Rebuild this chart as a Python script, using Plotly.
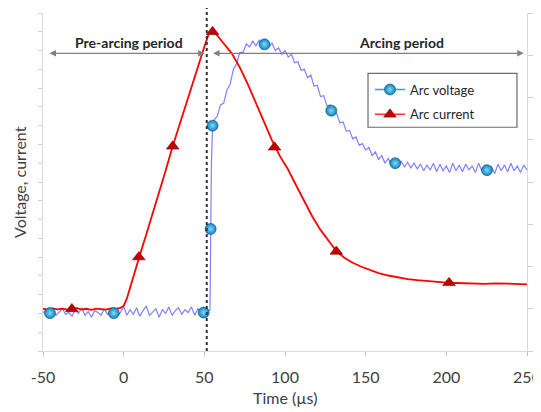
import numpy as np
import plotly.graph_objects as go

# ---------------- data ----------------
# Arc voltage trace: baseline (t = -50..50, step 2), jump, arc phase (t = 56..250, step 2)
volt_base = [2.05, 2.15, 1.95, 2.2, 1.9, 2.1, 2.25, 1.95, 2.05, 1.85,
             2.2, 2.0, 2.3, 1.9, 2.1, 1.8, 2.15, 2.05, 1.9, 2.25,
             1.95, 2.1, 2.3, 1.85, 2.05, 2.35, 1.9, 2.2, 1.95, 2.3,
             1.85, 2.15, 2.4, 1.9, 2.1, 2.25, 1.8, 2.2, 2.0, 2.35,
             1.9, 2.15, 2.3, 1.95, 2.2, 2.05, 2.35, 1.9, 2.25, 2.0,
             2.1]
time_jump = [52, 53.5, 53.9, 54.4, 55.1]
volt_jump = [2.1, 2.2, 6.5, 10.0, 12.0]
volt_arc = [12.3, 12.5, 13.1, 13.2, 13.9, 14.2, 15.0, 15.3, 15.9, 15.9,
            16.35, 16.2, 16.5, 16.25, 16.55, 16.3, 16.45, 16.2, 16.4, 16.0,
            16.15, 15.8, 16.0, 15.65, 15.8, 15.35, 15.4, 14.95, 15.0, 14.55,
            14.7, 14.1, 14.15, 13.55, 13.6, 13.05, 13.1, 12.6, 12.65, 12.15,
            12.2, 11.7, 11.75, 11.3, 11.4, 10.95, 11.05, 10.7, 10.85, 10.4,
            10.6, 10.2, 10.4, 10.0, 10.25, 9.9, 10.15, 9.85, 10.1, 9.8,
            10.05, 9.75, 10.0, 9.7, 9.95, 9.6, 9.9, 9.65, 10.0, 9.55,
            9.95, 9.6, 9.85, 9.5, 10.0, 9.6, 9.9, 9.55, 9.95, 9.65,
            9.85, 9.5, 10.0, 9.6, 9.9, 9.55, 9.8, 9.45, 9.95, 9.6,
            9.9, 9.55, 10.0, 9.6, 9.85, 9.5, 9.9, 9.65]
time_base = np.linspace(-50, 50, len(volt_base))
time_arc = np.linspace(56, 250, len(volt_arc))
time_volt = list(time_base) + time_jump + list(time_arc)
volt = volt_base + volt_jump + volt_arc

# Arc current trace
time_curr = [-50, -47, -44, -41, -38, -35, -32, -29, -26, -23, -20, -17, -14, -11, -8, -5, -2,
             0, 2, 4, 6, 8, 10, 14, 18, 22, 26, 30, 34, 38, 42, 46, 50, 53, 55,
             58, 62, 67, 72, 77, 82, 87, 92, 97, 102, 107, 112, 117, 122, 127, 132,
             137, 142, 147, 152, 158, 164, 170, 176, 182, 188, 194, 200, 206, 212,
             218, 224, 230, 236, 242, 250]
curr = [2.25, 2.2, 2.27, 2.22, 2.26, 2.2, 2.24, 2.28, 2.21, 2.25, 2.19, 2.26, 2.23, 2.2, 2.27, 2.24, 2.3,
        2.4, 2.8, 3.4, 4.0, 4.6, 5.1, 6.2, 7.3, 8.4, 9.6, 10.8, 11.9, 13.0, 14.05, 15.1, 16.2, 16.95, 17.05,
        16.8, 16.4, 15.85, 15.1, 14.2, 13.2, 12.2, 11.2, 10.35, 9.65, 8.8, 7.95, 7.15, 6.45, 5.85, 5.3,
        4.95, 4.7, 4.5, 4.33, 4.15, 4.02, 3.92, 3.83, 3.77, 3.72, 3.67, 3.64, 3.62, 3.6,
        3.61, 3.58, 3.6, 3.57, 3.58, 3.55]

# Marker positions
volt_mk_t = [-45.7, -6.1, 49.6, 53.9, 55.1, 87.3, 128.7, 168.3, 225.2]
volt_mk_v = [2.02, 2.02, 2.05, 6.5, 12.0, 16.33, 12.8, 10.0, 9.63]
curr_mk_t = [-32.1, 9.4, 30.4, 55.1, 93.5, 131.8, 201.7]
curr_mk_v = [2.24, 5.0, 10.9, 17.0, 10.85, 5.3, 3.63]

x_ticks = [-50, 0, 50, 100, 150, 200, 250]
x_ticktext = ["-50", "0", "50", "100", "150", "200", "250"]
arc_start = 51.5

# ---------------- figure ----------------
FONT = "Lato"
fig = go.Figure()

fig.add_trace(go.Scatter(x=time_volt, y=volt, mode="lines",
                         line=dict(color="rgba(80,80,255,0.72)", width=1.2),
                         showlegend=False, hoverinfo="skip"))
fig.add_trace(go.Scatter(x=time_curr, y=curr, mode="lines",
                         line=dict(color="#ff0000", width=1.8),
                         showlegend=False, hoverinfo="skip"))

volt_marker = dict(symbol="circle", size=11, color="#1183bd",
                   gradient=dict(type="radial", color="#7fdcfb"),
                   line=dict(color="#0a4d75", width=0.6))
curr_marker = dict(symbol="triangle-up", size=11, color="#c00000",
                   line=dict(color="#7a0000", width=0.6))

fig.add_trace(go.Scatter(x=volt_mk_t, y=volt_mk_v, mode="markers", marker=volt_marker,
                         showlegend=False))
fig.add_trace(go.Scatter(x=curr_mk_t, y=curr_mk_v, mode="markers", marker=curr_marker,
                         showlegend=False))

# legend entries
fig.add_trace(go.Scatter(x=[None], y=[None], mode="lines+markers", name="Arc voltage",
                         line=dict(color="#3f97d8", width=1.5), marker=volt_marker,
                         legendgroup="v"))
fig.add_trace(go.Scatter(x=[None], y=[None], mode="lines+markers", name="Arc current",
                         line=dict(color="#ff3333", width=1.5), marker=curr_marker,
                         legendgroup="c"))
# dummy for right axis
fig.add_trace(go.Scatter(x=[None], y=[None], yaxis="y2", showlegend=False))

axis_line = "#d9d9d9"
fig.update_layout(
    width=541, height=412,
    margin=dict(l=35, r=22, t=5, b=69),
    paper_bgcolor="white", plot_bgcolor="white",
    font=dict(family=FONT, color="#404040"),
    xaxis=dict(range=[-50, 250], tickvals=x_ticks, ticktext=x_ticktext,
               showgrid=False, zeroline=False, showline=True, linecolor=axis_line,
               linewidth=1.2, ticks="outside", ticklen=4, tickcolor="#bfbfbf",
               tickfont=dict(family=FONT, size=16, color="#404040"),
               ticklabelstandoff=8),
    yaxis=dict(range=[0, 18], dtick=1, showticklabels=False, showgrid=False,
               zeroline=False, showline=True, linecolor=axis_line, linewidth=1.2,
               ticks="outside", ticklen=4, tickcolor="#cfcfcf"),
    yaxis2=dict(range=[0, 8], dtick=1, overlaying="y", side="right",
                showticklabels=False, showgrid=False, zeroline=False,
                showline=True, linecolor=axis_line, linewidth=1.2,
                ticks="outside", ticklen=5, tickcolor="#cfcfcf"),
    legend=dict(x=0.6756, y=0.818, xanchor="left", yanchor="top",
                bgcolor="rgba(0,0,0,0)", borderwidth=0, tracegroupgap=5,
                font=dict(family=FONT, size=13, color="#262626"),
                itemclick=False),
    showlegend=True,
)

# legend box
fig.add_shape(type="rect", xref="paper", yref="paper", x0=0.6715, x1=0.9793,
              y0=0.662, y1=0.8215, line=dict(color="#6b6b6b", width=1.2),
              fillcolor="white", layer="below")

# dotted vertical line at arc start
fig.add_shape(type="line", xref="x", yref="paper", x0=arc_start, x1=arc_start,
              y0=0, y1=1.017, line=dict(color="#333333", width=2, dash="dot"))

# period arrows
for x_head, x_tail in [(-46.9, 50.2), (54.5, 248.0)]:
    fig.add_annotation(x=x_tail, y=15.85, ax=x_head, ay=15.85, xref="x", yref="y",
                       axref="x", ayref="y", text="", showarrow=True,
                       arrowhead=2, startarrowhead=2, arrowside="end+start",
                       arrowsize=1, startarrowsize=1, arrowwidth=1.3, arrowcolor="#7f7f7f")

fig.add_annotation(x=3.2, y=16.44, xref="x", yref="y", text="<b>Pre-arcing period</b>",
                   showarrow=False, font=dict(family=FONT, size=14, color="#262626"))
fig.add_annotation(x=172, y=16.44, xref="x", yref="y", text="<b>Arcing period</b>",
                   showarrow=False, font=dict(family=FONT, size=14, color="#262626"))

# axis titles
fig.add_annotation(x=0.5, y=-0.139, xref="paper", yref="paper", text="Time (µs)",
                   showarrow=False, yanchor="middle",
                   font=dict(family=FONT, size=16, color="#404040"))
fig.add_annotation(x=-0.0496, y=0.5, xref="paper", yref="paper", text="Voltage, current",
                   showarrow=False, textangle=-90, xanchor="center", yanchor="middle",
                   font=dict(family=FONT, size=16, color="#404040"))

fig.write_html("out.html")
